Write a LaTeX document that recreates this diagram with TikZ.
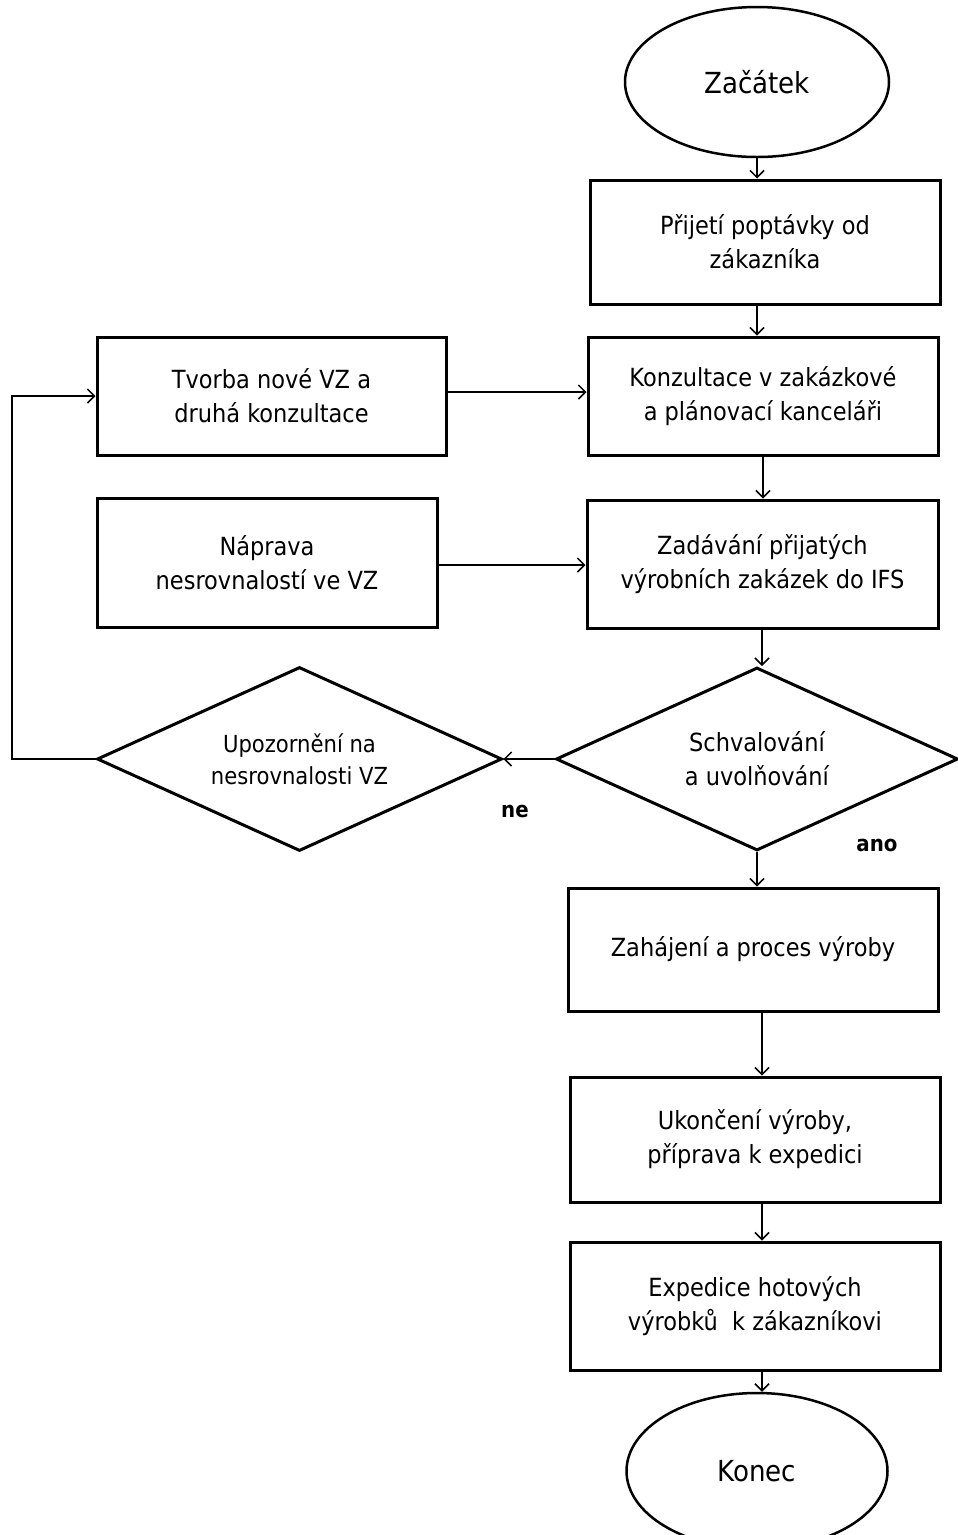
\documentclass[tikz,border=0pt]{standalone}
\usepackage{fontspec}
\setmainfont{DejaVu Sans Condensed}
\usetikzlibrary{shapes.geometric,arrows.meta}
\begin{document}
\begin{tikzpicture}[x=1pt,y=-1pt,
  box/.style={draw,line width=3pt,rectangle,align=center,inner sep=0pt,
     font=\fontsize{25}{34}\selectfont},
  term/.style={draw,line width=2.5pt,ellipse,inner sep=0pt,font=\fontsize{29}{32}\selectfont},
  dec/.style={draw,line width=3pt,diamond,inner sep=0pt,aspect=2.2,align=center},
  conn/.style={line width=1.6pt,-{Straight Barb[length=7pt,width=14pt,line width=1.5pt]}},
  lbl/.style={font=\bfseries\fontsize{22}{24}\selectfont}]
\useasboundingbox (0,0) rectangle (958,1535);
\fill[white] (0,0) rectangle (958,1535);

\node[term,minimum width=264,minimum height=150] (start) at (757,82) {Začátek};
\node[box,minimum width=350,minimum height=124] (b1) at (765,242) {Přijetí poptávky od\\zákazníka};
\node[box,minimum width=350,minimum height=118] (b2) at (763,396) {Konzultace v zakázkové\\a plánovací kanceláři};
\node[box,minimum width=349,minimum height=118] (tv) at (271.5,396) {Tvorba nové VZ a\\druhá konzultace};
\node[box,minimum width=351,minimum height=128] (b3) at (762.5,564) {Zadávání přijatých\\výrobních zakázek do IFS};
\node[box,minimum width=340,minimum height=129] (np) at (267,562.5) {Náprava\\nesrovnalostí ve VZ};
\node[dec,minimum width=402,minimum height=183,font=\fontsize{25}{34}\selectfont] (d1) at (757,759) {Schvalování\\a uvolňování};
\node[dec,minimum width=405,minimum height=184,font=\fontsize{23.5}{32}\selectfont] (d2) at (299.5,759) {Upozornění na\\nesrovnalosti VZ};
\node[box,minimum width=370,minimum height=123] (b4) at (753,949.5) {Zahájení a proces výroby};
\node[box,minimum width=370,minimum height=125] (b5) at (755,1139.5) {Ukončení výroby,\\příprava k expedici};
\node[box,minimum width=370,minimum height=128] (b6) at (755,1306) {Expedice hotových\\výrobků \ k zákazníkovi};
\node[term,minimum width=261,minimum height=156] (end) at (757,1471) {Konec};

\node[lbl] (ne) at (515,811) {ne};
\node[lbl] (ano) at (877,845) {ano};

\draw[conn] (start.south) -- (start.south |- b1.north);
\draw[conn] (b1.south -| start.south) -- (b2.north -| start.south);
\draw[conn] (b2.south) -- (b2.south |- b3.north);
\draw[conn] (tv.east) ++(0,-4) coordinate (tve) -- (tve -| b2.west);
\draw[conn] (np.east) ++(0,2.5) coordinate (npe) -- (npe -| b3.west);
\draw[conn] (b3.south) ++(-0.5,0) coordinate (b3s) -- (b3s |- d1.north);
\draw[conn] (d1.west) -- (d2.east);
\coordinate (lp) at (12,759);
\draw[conn] (d2.west) -- (lp) -- (lp |- tv.west) -- (tv.west);
\draw[conn] (d1.south) -- (d1.south |- b4.north);
\draw[conn] (b4.south) ++(9,0) coordinate (b4s) -- (b4s |- b5.north);
\draw[conn] (b5.south) ++(7,0) coordinate (b5s) -- (b5s |- b6.north);
\draw[conn] (b6.south) ++(7,0) coordinate (b6s) -- (b6s |- end.north);
\end{tikzpicture}
\end{document}
